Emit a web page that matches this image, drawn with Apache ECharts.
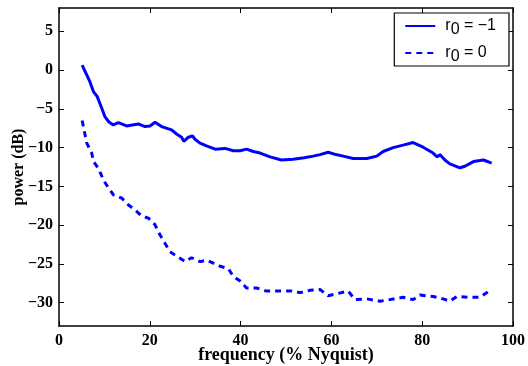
<!DOCTYPE html>
<html><head><meta charset="utf-8">
<script src="https://cdn.jsdelivr.net/npm/echarts@6/dist/echarts.min.js"></script>
<style>html,body{margin:0;padding:0;background:#fff}#c{width:528px;height:366px}</style>
</head><body><div id="c"></div>
<script>
const xTicks = [0, 20, 40, 60, 80, 100];
const yTicks = [-30, -25, -20, -15, -10, -5, 0, 5];
const seriesNames = ['r0 = −1', 'r0 = 0'];

const freqA = [5.1, 6.8, 7.6, 8.4, 9.4, 10.1, 11.0, 11.96, 13.07, 14.9, 17.47, 18.94, 20.04, 21.15, 22.6, 24.8, 25.9, 27.0, 27.5, 28.5, 29.4, 29.95, 31.06, 32.5, 34.4, 36.6, 38.4, 39.9, 41.3, 42.8, 44.3, 46.5, 49.0, 51.6, 54, 56, 57.5, 59.3, 61, 62.6, 64.8, 67.8, 70, 71.4, 73.6, 76, 78, 80.2, 82.4, 83.3, 83.9, 85, 86.1, 88.3, 89.4, 91.3, 93.5, 95.3];
const powerA = [0.64, -1.5, -2.8, -3.4, -4.9, -6.0, -6.7, -7.08, -6.78, -7.21, -6.95, -7.29, -7.21, -6.73, -7.29, -7.72, -8.24, -8.66, -9.2, -8.66, -8.49, -8.92, -9.43, -9.78, -10.2, -10.1, -10.4, -10.4, -10.2, -10.5, -10.7, -11.2, -11.6, -11.5, -11.3, -11.1, -10.9, -10.6, -10.9, -11.1, -11.4, -11.4, -11.1, -10.5, -10.0, -9.65, -9.35, -9.95, -10.7, -11.2, -10.9, -11.6, -12.1, -12.6, -12.4, -11.8, -11.6, -12.0];

const freqB = [5.1, 6.1, 7.2, 7.6, 8.7, 9.8, 10.9, 12, 13.8, 15.3, 16.7, 18.2, 19.7, 21.1, 22.2, 23.3, 24.4, 25.9, 27.8, 29.2, 31.1, 32.5, 34, 35.5, 37.3, 38.4, 39.9, 41.3, 43.5, 45.7, 48.7, 51.3, 53.1, 55.3, 57.5, 59.3, 61.5, 63.7, 65.2, 67.8, 70.7, 72.9, 75.8, 78, 79.5, 82.4, 84.6, 86.1, 87.6, 90.5, 92.7, 94.2, 95.3];
const powerB = [-6.5, -9.4, -10.7, -11.8, -12.7, -14.2, -15.2, -16.1, -16.5, -17.4, -18.0, -18.8, -19.1, -19.9, -21.2, -22.3, -23.4, -24.0, -24.7, -24.2, -24.7, -24.5, -24.9, -25.3, -25.6, -26.6, -27.2, -28.1, -28.1, -28.5, -28.5, -28.5, -28.7, -28.4, -28.3, -29.1, -28.8, -28.5, -29.6, -29.5, -29.8, -29.6, -29.3, -29.6, -29.0, -29.2, -29.5, -29.8, -29.2, -29.3, -29.3, -28.7, -28.2];

const pair = (xs, ys) => xs.map((x, i) => [x, ys[i]]);
const blue = '#0000ff';
const serif = '"Liberation Serif", "DejaVu Serif", serif';
const sans = '"Liberation Sans", Arial, sans-serif';

const chart = echarts.init(document.getElementById('c'));
const axisLine = {show: true, onZero: false, lineStyle: {color: '#000', width: 1.5}};
const tickIn = {show: true, inside: true, length: 5, lineStyle: {color: '#000', width: 1}};
chart.setOption({
  animation: false,
  grid: {left: 59, right: 15, top: 8, bottom: 40, containLabel: false, outerBoundsMode: 'none'},
  legend: {
    data: seriesNames,
    right: 19, top: 13, orient: 'vertical',
    backgroundColor: '#fff', borderColor: '#000', borderWidth: 1.2, borderRadius: 0,
    padding: [1, 13, 1, 10], itemGap: 3, itemWidth: 30, itemHeight: 14,
    itemStyle: {opacity: 0},
    formatter: n => n === seriesNames[0] ? '{a|r}{s|0}{a| = −1}' : '{a|r}{s|0}{a| = 0}',
    textStyle: {padding: [0, 0, 0, 5], rich: {
      a: {fontFamily: sans, fontSize: 16, color: '#000', verticalAlign: 'top', lineHeight: 16},
      s: {fontFamily: sans, fontSize: 16, color: '#000', padding: [8, 0, 0, 0], lineHeight: 16}
    }}
  },
  xAxis: [{
    type: 'value', min: 0, max: 100, interval: 20,
    name: 'frequency (% Nyquist)', nameLocation: 'middle', nameGap: 20, nameMoveOverlap: false,
    nameTextStyle: {fontFamily: serif, fontWeight: 'bold', fontSize: 18, color: '#000'},
    axisLine, axisTick: tickIn, splitLine: {show: false},
    axisLabel: {fontFamily: serif, fontWeight: 'bold', fontSize: 16, color: '#000', margin: 7}
  }, {
    type: 'value', min: 0, max: 100, interval: 20, position: 'top',
    axisLine, axisTick: tickIn, axisLabel: {show: false}, splitLine: {show: false}
  }],
  yAxis: [{
    type: 'value', min: -33, max: 8,
    name: 'power (dB)', nameLocation: 'middle', nameGap: 32, nameMoveOverlap: false,
    nameTextStyle: {fontFamily: serif, fontWeight: 'bold', fontSize: 16, color: '#000'},
    axisLine, splitLine: {show: false},
    axisLabel: {fontFamily: serif, fontWeight: 'bold', fontSize: 16, color: '#000', margin: 6,
      customValues: yTicks, formatter: v => String(v).replace('-', '−')},
    axisTick: Object.assign({customValues: yTicks}, tickIn)
  }, {
    type: 'value', min: -33, max: 8, position: 'right',
    axisLine, axisLabel: {show: false}, splitLine: {show: false},
    axisTick: Object.assign({customValues: yTicks}, tickIn)
  }],
  series: [{
    name: seriesNames[0], type: 'line', data: pair(freqA, powerA),
    showSymbol: false, symbol: 'none',
    lineStyle: {color: blue, width: 3}, itemStyle: {color: blue}
  }, {
    name: seriesNames[1], type: 'line', data: pair(freqB, powerB),
    showSymbol: false, symbol: 'none',
    lineStyle: {color: blue, width: 3, type: [6, 5]}, itemStyle: {color: blue}
  }]
});
</script></body></html>
